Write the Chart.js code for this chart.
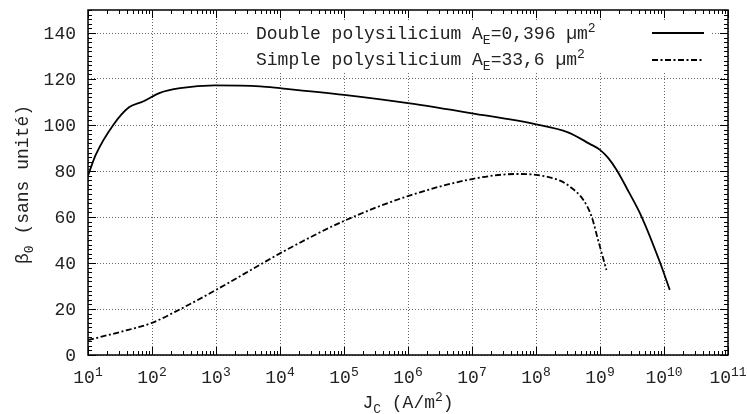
<!DOCTYPE html>
<html>
<head>
<meta charset="utf-8">
<script src="https://cdn.jsdelivr.net/npm/chart.js@4/dist/chart.umd.min.js"></script>
<style>
  body{margin:0;background:#fff;}
  canvas{display:block;}
</style>
</head>
<body>
<canvas id="chartBeta" width="747" height="414"></canvas>
<script>
// Données : J_C (A/m2) et beta0
const jcDouble   = [10, 13.2, 24.8, 43.7, 72.4, 133, 275, 955, 4.9e3, 1e4, 1e5, 1e6, 1e7, 1e8, 3.16e8, 6.9e8, 1e9, 1.35e9, 1.82e9, 2.8e9, 4.47e9, 8.7e9, 1.23e10];
const betaDouble = [78, 87, 100, 107.7, 110.2, 114, 116, 117.2, 116.8, 116, 113.1, 109.5, 105.1, 100.3, 96.8, 91.8, 89.2, 85.6, 80.4, 71, 60.1, 40.1, 28.3];

const jcSimple   = [10, 31.6, 100, 275, 1e3, 4.9e3, 1e4, 1e5, 1e6, 1e7, 5e7, 1e8, 2.37e8, 3.39e8, 5.5e8, 7.41e8, 9.33e8, 1.26e9];
const betaSimple = [6.5, 10, 14, 19.9, 28.3, 39.3, 44.2, 58.3, 69.1, 76.5, 78.7, 78.3, 75.8, 73.2, 67.4, 60.1, 50, 37];

const xExponents = [1,2,3,4,5,6,7,8,9,10,11];
const yTicks = [0,20,40,60,80,100,120,140];

const FONT = '"Liberation Mono", "DejaVu Sans Mono", monospace';
const TXT = '#222';
const DASHDOT = [6,2.5,2,2.5];

function pts(xs, ys){ return xs.map((v,i)=>({x:v, y:ys[i]})); }

// texte avec indices / exposants : parts = [[texte, 0|'sub'|'sup'], ...]
function richWidth(ctx, parts){
  let w=0;
  parts.forEach(p=>{ ctx.font = (p[1]?'13px ':'18px ')+FONT; w += ctx.measureText(p[0]).width; });
  return w;
}
function drawRich(ctx, parts, x, y){
  parts.forEach(p=>{
    ctx.font = (p[1]?'13px ':'18px ')+FONT;
    const dy = p[1]==='sup' ? -7 : (p[1]==='sub' ? 5 : 0);
    ctx.fillText(p[0], x, y+dy);
    x += ctx.measureText(p[0]).width;
  });
}

const deco = {
  id:'deco',
  afterDraw(chart){
    const {ctx, chartArea:a, scales:{x, y}} = chart;
    ctx.save();
    ctx.strokeStyle='#000'; ctx.lineWidth=1;
    ctx.beginPath();
    // ticks axe x (majeurs + mineurs), en bas et en haut
    xExponents.forEach(e=>{
      const px = Math.round(x.getPixelForValue(Math.pow(10,e)))+0.5;
      ctx.moveTo(px,a.bottom); ctx.lineTo(px,a.bottom-8);
      ctx.moveTo(px,a.top); ctx.lineTo(px,a.top+8);
      if(e<11) for(let k=2;k<10;k++){
        const m = Math.round(x.getPixelForValue(k*Math.pow(10,e)))+0.5;
        ctx.moveTo(m,a.bottom); ctx.lineTo(m,a.bottom-4);
        ctx.moveTo(m,a.top); ctx.lineTo(m,a.top+4);
      }
    });
    // ticks axe y tous les 2
    for(let v=0; v<=150; v+=2){
      const py = Math.round(y.getPixelForValue(v))+0.5;
      const len = (v%20===0) ? 8 : 4;
      ctx.moveTo(a.left,py); ctx.lineTo(a.left+len,py);
      ctx.moveTo(a.right,py); ctx.lineTo(a.right-len,py);
    }
    ctx.stroke();
    // cadre
    ctx.lineWidth=1.5;
    ctx.strokeRect(a.left, a.top, a.right-a.left, a.bottom-a.top);

    // labels axe y
    ctx.fillStyle=TXT; ctx.font='18px '+FONT;
    ctx.textAlign='right'; ctx.textBaseline='middle';
    yTicks.forEach(v=> ctx.fillText(String(v), a.left-12, y.getPixelForValue(v)+1));

    // labels axe x : 10^n
    ctx.textBaseline='alphabetic'; ctx.textAlign='left';
    xExponents.forEach(e=>{
      const parts=[['10',0],[String(e),'sup']];
      const px = x.getPixelForValue(Math.pow(10,e));
      const w = richWidth(ctx, parts);
      drawRich(ctx, parts, px - w/2, 383);
    });

    // titre axe x
    const xt=[['J',0],['C','sub'],[' (A/m',0],['2','sup'],[')',0]];
    drawRich(ctx, xt, (a.left+a.right)/2 - richWidth(ctx,xt)/2, 408);

    // titre axe y (vertical)
    const yt=[['β',0],['0','sub'],[' (sans unité)',0]];
    ctx.save();
    ctx.translate(28, (a.top+a.bottom)/2 + 2);
    ctx.rotate(-Math.PI/2);
    drawRich(ctx, yt, -richWidth(ctx,yt)/2, 0);
    ctx.restore();

    // légende
    ctx.fillStyle='#fff';
    ctx.fillRect(250, 20, 462, 52);
    ctx.fillStyle=TXT;
    drawRich(ctx, [['Double polysilicium A',0],['E','sub'],['=0,396 µm',0],['2','sup']], 256, 39);
    drawRich(ctx, [['Simple polysilicium A',0],['E','sub'],['=33,6 µm',0],['2','sup']], 256, 65);
    ctx.strokeStyle='#000'; ctx.lineWidth=1.8;
    ctx.beginPath(); ctx.moveTo(652,33); ctx.lineTo(704,33); ctx.stroke();
    ctx.setLineDash(DASHDOT);
    ctx.beginPath(); ctx.moveTo(652,60); ctx.lineTo(704,60); ctx.stroke();
    ctx.restore();
  }
};

new Chart(document.getElementById('chartBeta'), {
  type:'line',
  data:{
    datasets:[
      {label:'Double polysilicium', data:pts(jcDouble,betaDouble), borderColor:'#000', borderWidth:1.8,
       pointRadius:0, cubicInterpolationMode:'monotone', fill:false},
      {label:'Simple polysilicium', data:pts(jcSimple,betaSimple), borderColor:'#000', borderWidth:1.8,
       borderDash:DASHDOT, pointRadius:0, cubicInterpolationMode:'monotone', fill:false}
    ]
  },
  options:{
    responsive:false, animation:false, devicePixelRatio:1,
    layout:{padding:{left:0,right:19,top:10,bottom:0}},
    plugins:{legend:{display:false}, tooltip:{enabled:false}},
    scales:{
      x:{
        type:'logarithmic', min:10, max:1e11,
        afterBuildTicks:s=>{ s.ticks = xExponents.map(e=>({value:Math.pow(10,e)})); },
        afterFit:s=>{ s.height = 59; s.paddingLeft = 0; s.paddingRight = 0; },
        ticks:{display:false},
        grid:{color:'#666', lineWidth:1, drawTicks:false},
        border:{display:false, dash:[1,2]}
      },
      y:{
        min:0, max:150,
        afterBuildTicks:s=>{ s.ticks = yTicks.map(v=>({value:v})); },
        afterFit:s=>{ s.width = 88; s.paddingTop = 0; s.paddingBottom = 0; },
        ticks:{display:false},
        grid:{color:'#666', lineWidth:1, drawTicks:false},
        border:{display:false, dash:[1,2]}
      }
    }
  },
  plugins:[deco]
});
</script>
</body>
</html>
